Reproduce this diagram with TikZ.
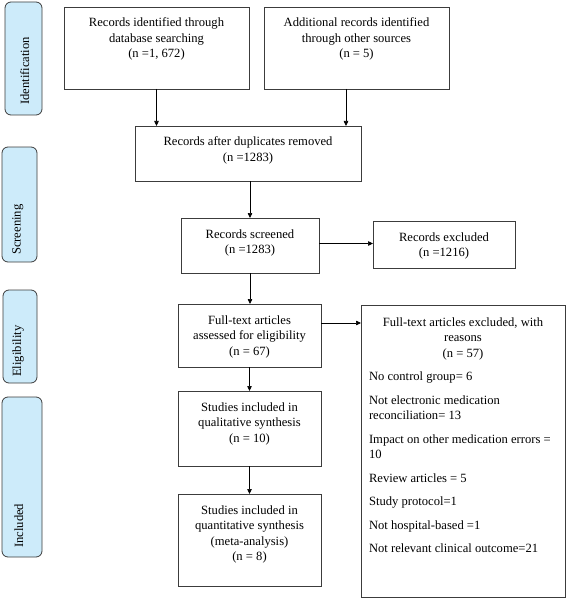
\documentclass[tikz,border=0pt]{standalone}
\usepackage{fontspec}
\setmainfont{Liberation Serif}
\usetikzlibrary{arrows.meta}
\definecolor{sidefill}{HTML}{CDEBFA}
\definecolor{edgecol}{HTML}{3C3C3C}
\newcommand{\bxt}[3]{\parbox[c][#2][t]{#1}{\fontsize{12.6}{15.5}\selectfont\centering\rule{0pt}{20pt}#3}}
\begin{document}
\begin{tikzpicture}[x=1pt,y=-1pt,
  font=\fontsize{12.6}{15.5}\selectfont,
  box/.style={draw=edgecol, line width=0.8pt, inner sep=0pt, outer sep=0pt},
  side/.style={draw=edgecol, fill=sidefill, rounded corners=6pt, line width=0.8pt, inner sep=0pt},
  sidetxt/.style={rotate=90, anchor=base west, inner sep=0pt},
  arr/.style={-{Triangle[length=5pt,width=4.5pt]}, line width=0.7pt, draw=black}]
\useasboundingbox (0,0) rectangle (567,599);

% side labels
\node[side, minimum width=37pt, minimum height=113pt] (s1) at (23.5,58.5) {};
\node[sidetxt] (t1) at (29,105) {Identification};
\node[side, minimum width=35pt, minimum height=115pt] (s2) at (19.5,204.5) {};
\node[sidetxt] (t2) at (20.5,255) {Screening};
\node[side, minimum width=34pt, minimum height=93pt] (s3) at (20,336.5) {};
\node[sidetxt] (t3) at (21,377) {Eligibility};
\node[side, minimum width=40pt, minimum height=160pt] (s4) at (22,477) {};
\node[sidetxt] (t4) at (23,548) {Included};

% boxes
\node[box] (db) at (156.5,48) {\bxt{185pt}{82pt}{Records identified through\\database searching\\(n =1, 672)}};
\node[box] (other) at (356.5,48) {\bxt{185pt}{82pt}{Additional records identified\\through other sources\\(n = 5)}};
\node[box] (dup) at (248,153.5) {\bxt{226pt}{55pt}{Records after duplicates removed\\(n =1283)}};
\node[box] (scr) at (250,245.5) {\bxt{138pt}{55pt}{Records screened\\(n =1283)}};
\node[box] (exa) at (444,244.5) {\bxt{142pt}{47pt}{Records excluded\\(n =1216)}};
\node[box] (full) at (249.5,335.5) {\bxt{143pt}{63pt}{Full-text articles\\assessed for eligibility\\(n = 67)}};
\node[box] (exb) at (463,451) {\parbox[c][292pt][t]{204pt}{\fontsize{12.6}{15.5}\selectfont\parskip=8pt
  \centering\rule{0pt}{21pt}Full-text articles excluded, with\\reasons\\(n = 57)\par
  \raggedright\leftskip=8pt
  \mbox{No control group= 6}\par
  \mbox{Not electronic medication}\\\mbox{reconciliation= 13}\par
  \mbox{Impact on other medication errors =}\\10\par
  \mbox{Review articles = 5}\par
  \mbox{Study protocol=1}\par
  \mbox{Not hospital-based =1}\par
  \mbox{Not relevant clinical outcome=21}\par}};
\node[box] (qual) at (249.5,428.5) {\bxt{143pt}{75pt}{Studies included in\\qualitative synthesis\\(n = 10)}};
\node[box] (quant) at (249.5,540) {\bxt{143pt}{92pt}{Studies included in\\quantitative synthesis\\(meta-analysis)\\(n = 8)}};

% connectors
\draw[arr] (db.south) -- (db.south |- dup.north);
\draw[arr] ([xshift=-10.5pt]other.south) -- ([xshift=-10.5pt]other.south |- dup.north);
\draw[arr] (dup.south -| scr.north) -- (scr.north);
\draw[arr] ([yshift=2pt]scr.east) -- ([yshift=2pt]scr.east -| exa.west);
\draw[arr] (scr.south) -- (scr.south |- full.north);
\draw[arr] ([yshift=12.5pt]full.east) -- ([yshift=12.5pt]full.east -| exb.west);
\draw[arr] (full.south) -- (qual.north);
\draw[arr] (qual.south) -- (quant.north);
\end{tikzpicture}
\end{document}
